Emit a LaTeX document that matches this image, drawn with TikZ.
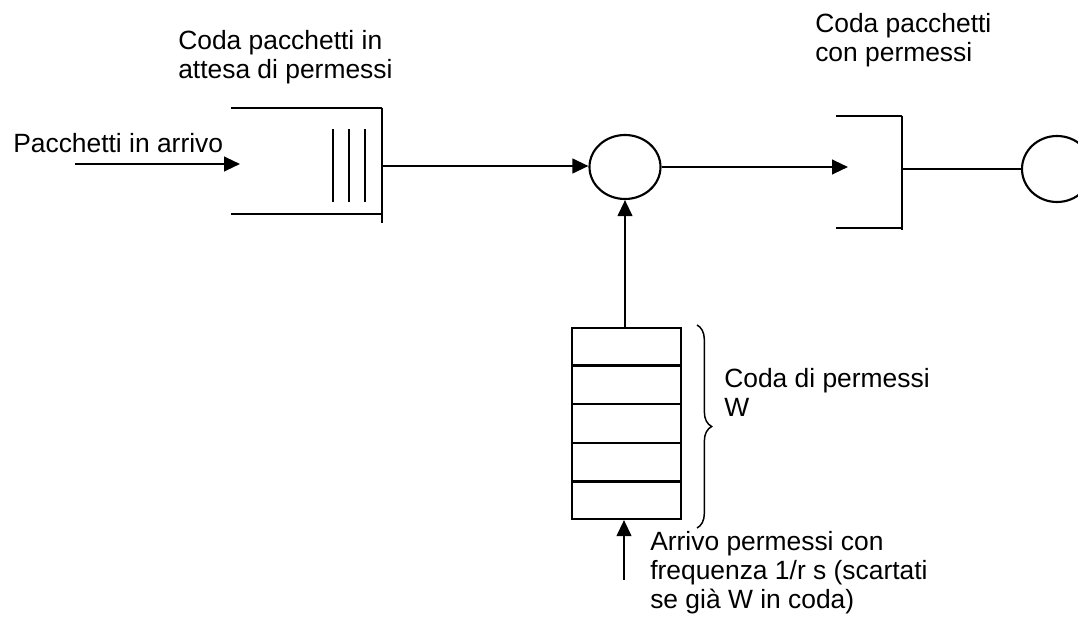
\documentclass[tikz,border=0pt]{standalone}
\usepackage{fontspec}
\setmainfont{Liberation Sans}
\usetikzlibrary{arrows.meta,shapes.geometric,decorations.pathreplacing,calc}

\tikzset{
  line/.style={line width=1.6pt},
  flow/.style={line, -{Triangle[length=12pt,width=11pt]}},
  server/.style={ellipse, draw, line, inner sep=0pt},
  label/.style={anchor=base west, inner sep=0pt, align=left,
    font=\fontsize{19.8}{21.75}\selectfont},
}

\begin{document}
\begin{tikzpicture}[x=0.75pt,y=0.75pt,yscale=-1,xscale=1]
\useasboundingbox (0,0) rectangle (1078,624);
\clip (0,0) rectangle (1078,624);

%Servers
\node [server, minimum width=53.25pt, minimum height=48pt] (srv) at (625,167) {};
\node [server, minimum width=52.5pt, minimum height=49.5pt] (outsrv) at (1057,169) {};

%Permit stack
\node [draw, line, minimum width=81.75pt, minimum height=143.25pt, inner sep=0pt] (tok) at (626.5,423.5) {};
\foreach \i in {1,...,4}
  \draw [line] ($(tok.north west)!\i/5!(tok.south west)$) -- ($(tok.north east)!\i/5!(tok.south east)$);

%Waiting queue
\draw [line] (231,108) -- (382,108) ;
\draw [line] (231,214) -- (382,214) ;
\draw [line] (382,108) -- (382,223) ;
\foreach \x in {333,349,365}
  \draw [line] (\x,129) -- (\x,202) ;
\coordinate (qin) at (240,164);
\coordinate (qout) at (382,166);
\coordinate (src) at (75,164);

%Queue with permits
\draw [line] (836,116) -- (902,116) ;
\draw [line] (836,228) -- (902,228) ;
\draw [line] (902,116) -- (902,230) ;
\coordinate (pin) at (848,167);
\coordinate (pout) at (902,169);

%Connections
\draw [flow] (src) -- (qin) ;
\draw [flow] (qout) -- (qout -| srv.west) ;
\draw [flow] (srv.east |- pin) -- (pin) ;
\draw [line] (pout) -- (outsrv.west) ;
\draw [flow] (tok.north -| srv.south) -- (srv.south) ;
\coordinate (tokin) at (624,580);
\draw [flow] (tokin) -- (tokin |- tok.south) ;

%Brace
\draw [line width=1.1pt, decorate, decoration={brace, amplitude=11pt}] (697,325) -- (697,528) ;

% Text Node (last baseline given)
\node [label] (lin) at (13,153) {Pacchetti in arrivo};
% Text Node
\node [label] (lwait) at (178,79) {Coda pacchetti in\\attesa di permessi};
% Text Node
\node [label] (lperm) at (815,62) {Coda pacchetti\\con permessi};
% Text Node
\node [label] (ltok) at (724,416) {Coda di permessi\\W};
% Text Node
\node [label] (larr) at (650,608) {Arrivo permessi con\\frequenza 1/r s (scartati\\se già W in coda)};

\end{tikzpicture}
\end{document}
